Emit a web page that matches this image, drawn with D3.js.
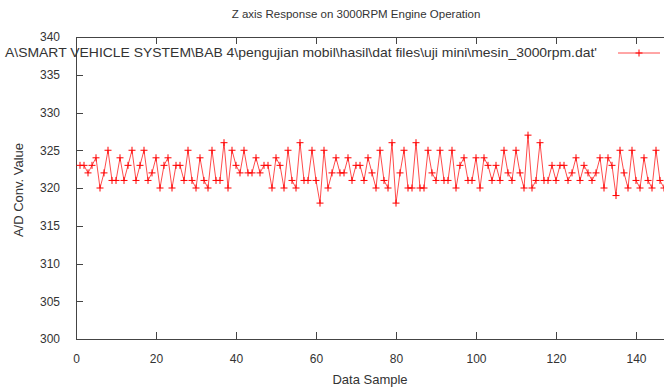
<!DOCTYPE html>
<html>
<head>
<meta charset="utf-8">
<script src="https://cdn.jsdelivr.net/npm/d3@7"></script>
<style>
  body { margin: 0; background: #fff; }
  svg { display: block; }
  text { font-family: "Liberation Sans", Arial, sans-serif; fill: #333; }
</style>
</head>
<body>
<svg id="chart" width="664" height="391"></svg>
<script>
// Chart text
const chartTitle = "Z axis Response on 3000RPM Engine Operation";
const seriesLabel = "A\\SMART VEHICLE SYSTEM\\BAB 4\\pengujian mobil\\hasil\\dat files\\uji mini\\mesin_3000rpm.dat'";
const xAxisLabel = "Data Sample";
const yAxisLabel = "A/D Conv. Value";

// Axis ticks
const xTicks = [0, 20, 40, 60, 80, 100, 120, 140];
const yTicks = [300, 305, 310, 315, 320, 325, 330, 335, 340];

// A/D readings, one per data sample, starting at sample 1
const sampleStart = 1;
const samples = [
  323, 323, 322, 323, 324, 320, 322, 325, 321, 321,
  324, 321, 323, 325, 321, 323, 325, 321, 322, 324,
  320, 323, 324, 320, 323, 323, 321, 325, 321, 320,
  324, 321, 320, 325, 321, 321, 326, 320, 325, 323,
  322, 325, 322, 322, 324, 322, 323, 323, 320, 324,
  323, 320, 325, 321, 320, 326, 321, 321, 325, 321,
  318, 325, 320, 322, 324, 322, 322, 324, 321, 323,
  323, 321, 324, 322, 320, 325, 321, 320, 326, 318,
  322, 325, 320, 320, 326, 320, 320, 325, 322, 321,
  325, 321, 321, 325, 320, 323, 324, 321, 321, 324,
  320, 324, 323, 321, 323, 321, 325, 322, 321, 325,
  322, 320, 327, 320, 321, 326, 321, 321, 323, 321,
  323, 323, 321, 322, 324, 321, 323, 322, 321, 322,
  324, 320, 324, 323, 319, 325, 322, 320, 325, 321,
  320, 324, 321, 320, 325, 321, 320
];

const data = samples.map((v, i) => ({ x: sampleStart + i, y: v }));

const svg = d3.select("#chart");
const plot = { left: 76, right: 676, top: 37, bottom: 339 };

const x = d3.scaleLinear().domain([0, 150]).range([plot.left, plot.right]);
const y = d3.scaleLinear().domain([300, 340]).range([plot.bottom, plot.top]);

const borderColor = "#444";
const red = "#ff0000";
const tickLen = 7;

// Plot frame
svg.append("rect")
  .attr("x", plot.left).attr("y", plot.top)
  .attr("width", plot.right - plot.left).attr("height", plot.bottom - plot.top)
  .attr("fill", "none").attr("stroke", borderColor).attr("stroke-width", 1)
  .attr("shape-rendering", "crispEdges");

function styleAxis(g, showText) {
  g.select(".domain").remove();
  g.selectAll(".tick line").attr("stroke", borderColor).attr("shape-rendering", "crispEdges");
  g.selectAll(".tick text")
    .style("font-size", "12px")
    .attr("fill", "#333")
    .style("display", showText ? null : "none");
}

// Bottom axis with inward ticks
svg.append("g")
  .attr("transform", `translate(0,${plot.bottom})`)
  .call(d3.axisBottom(x).tickValues(xTicks).tickSize(-tickLen).tickPadding(tickLen + 8).tickFormat(d3.format("d")))
  .call(g => styleAxis(g, true));

// Top mirror ticks
svg.append("g")
  .attr("transform", `translate(0,${plot.top})`)
  .call(d3.axisTop(x).tickValues(xTicks).tickSize(-tickLen))
  .call(g => styleAxis(g, false));

// Left axis with inward ticks
svg.append("g")
  .attr("transform", `translate(${plot.left},0)`)
  .call(d3.axisLeft(y).tickValues(yTicks).tickSize(-tickLen).tickPadding(tickLen + 9).tickFormat(d3.format("d")))
  .call(g => styleAxis(g, true));

// Right mirror ticks
svg.append("g")
  .attr("transform", `translate(${plot.right},0)`)
  .call(d3.axisRight(y).tickValues(yTicks).tickSize(-tickLen))
  .call(g => styleAxis(g, false));

// Data line
svg.append("path")
  .datum(data)
  .attr("fill", "none")
  .attr("stroke", red)
  .attr("stroke-opacity", 0.7)
  .attr("stroke-width", 1)
  .attr("d", d3.line().x(d => x(d.x)).y(d => y(d.y)));

// "+" point markers
const m = 3.5;
const plus = `M${-m},0H${m}M0,${-m}V${m}`;
svg.append("g")
  .selectAll("path")
  .data(data)
  .join("path")
  .attr("transform", d => `translate(${x(d.x)},${y(d.y)})`)
  .attr("d", plus)
  .attr("stroke", red)
  .attr("stroke-width", 1)
  .attr("fill", "none");

// Key
const keyY = 53;
svg.append("text")
  .attr("x", 597).attr("y", keyY)
  .attr("text-anchor", "end").attr("dominant-baseline", "middle")
  .attr("textLength", 592).attr("lengthAdjust", "spacingAndGlyphs")
  .style("font-size", "13.5px")
  .text(seriesLabel);
svg.append("line")
  .attr("x1", 618).attr("x2", 660).attr("y1", keyY).attr("y2", keyY)
  .attr("stroke", red).attr("stroke-opacity", 0.7);
svg.append("path")
  .attr("transform", `translate(639,${keyY})`)
  .attr("d", plus)
  .attr("stroke", red).attr("fill", "none");

// Titles
svg.append("text")
  .attr("x", 356).attr("y", 15)
  .attr("text-anchor", "middle").attr("dominant-baseline", "middle")
  .style("font-size", "11.5px")
  .text(chartTitle);

svg.append("text")
  .attr("x", 370).attr("y", 381)
  .attr("text-anchor", "middle").attr("dominant-baseline", "middle")
  .style("font-size", "13px")
  .text(xAxisLabel);

svg.append("text")
  .attr("transform", `translate(20,190) rotate(-90)`)
  .attr("text-anchor", "middle").attr("dominant-baseline", "middle")
  .style("font-size", "13px")
  .text(yAxisLabel);
</script>
</body>
</html>
